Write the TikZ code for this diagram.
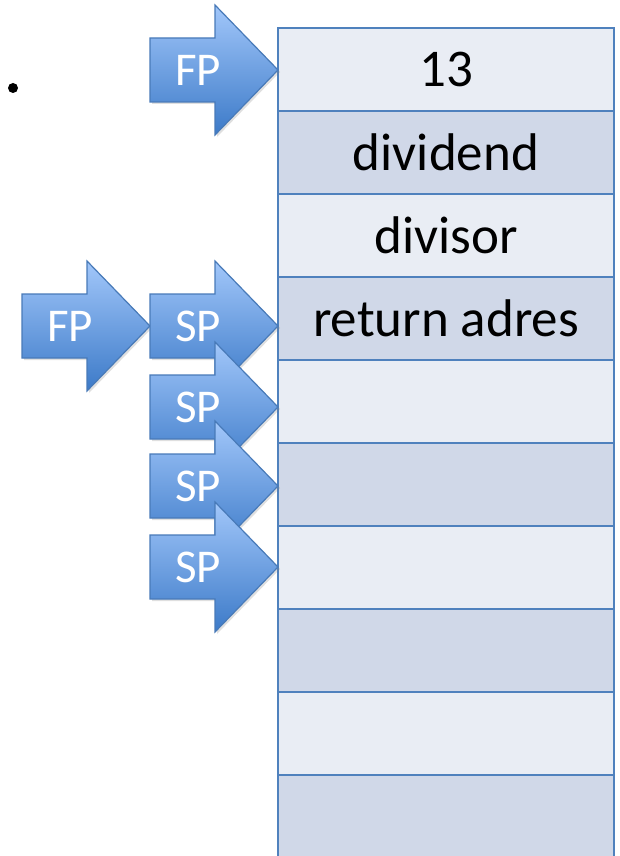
\documentclass[tikz,border=0pt]{standalone}
\usepackage{fontspec}
\setmainfont{Carlito}
\usetikzlibrary{shadows}

\definecolor{cellA}{HTML}{E9EDF4}
\definecolor{cellB}{HTML}{D0D8E8}
\definecolor{cellrule}{HTML}{4F81BD}
\definecolor{ptrtop}{RGB}{162,199,250}
\definecolor{ptrbot}{RGB}{60,122,200}
\definecolor{ptrrule}{RGB}{72,122,184}

% block arrow: name, tip x, tip y, label
\newcommand{\ptrarrow}[4]{%
  \path[ptr] (#2,#3) -- ++(-63,-65) -- ++(0,33) -- ++(-65,0) -- ++(0,64)
    -- ++(65,0) -- ++(0,33) -- cycle;
  \node[ptrtext] (#1) at (#2-80,#3) {#4};
}

\begin{document}
\begin{tikzpicture}[x=1pt,y=-1pt,
    cell/.style={draw=cellrule, line width=2.8pt, minimum width=336pt,
      minimum height=83pt, inner sep=0pt, font=\fontsize{53}{62}\selectfont},
    ptr/.style={draw=ptrrule, line width=1.2pt, top color=ptrtop,
      bottom color=ptrbot, line join=miter,
      drop shadow={shadow xshift=2pt, shadow yshift=-2pt, opacity=0.25}},
    ptrtext/.style={text=white, inner sep=0pt, font=\fontsize{47}{54}\selectfont}]
  \useasboundingbox (0,0) rectangle (619,856);

  % the stack
  \foreach \i/\c/\t in {1/cellA/13, 2/cellB/dividend, 3/cellA/divisor,
      4/cellB/return adres, 5/cellA/{}, 6/cellB/{}, 7/cellA/{},
      8/cellB/{}, 9/cellA/{}, 10/cellB/{}}
    \node[cell, fill=\c] (row\i) at (446,{28+83*\i-41.5}) {\t};

  % bullet
  \fill (13,88) circle[radius=5pt];

  % pointers
  \ptrarrow{fpold}{278}{70}{FP}
  \ptrarrow{fpnew}{150}{326}{FP}
  \ptrarrow{spa}{278}{326}{SP}
  \ptrarrow{spb}{278}{407}{SP}
  \ptrarrow{spc}{278}{486}{SP}
  \ptrarrow{spd}{278}{567}{SP}
\end{tikzpicture}
\end{document}
